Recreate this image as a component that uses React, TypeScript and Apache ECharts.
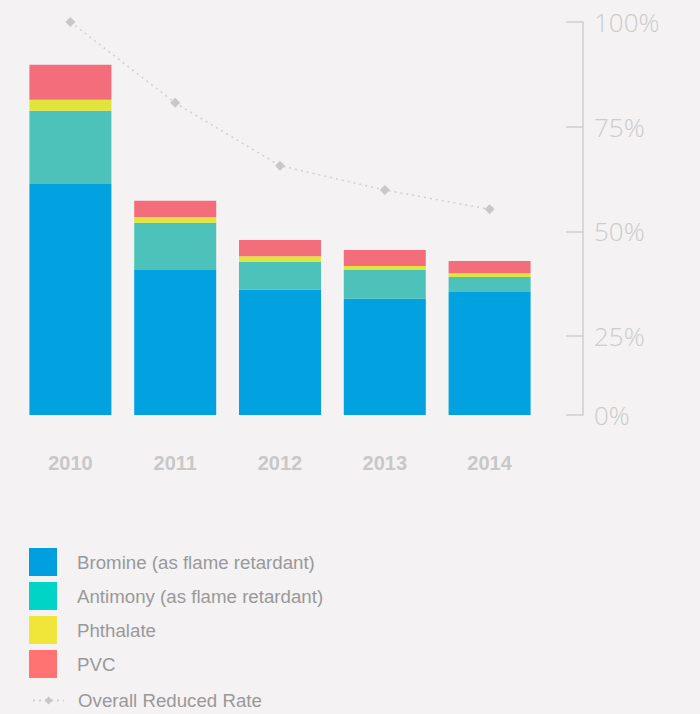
import React, { useEffect, useRef } from "react";
import * as echarts from "echarts";

const years = ["2010", "2011", "2012", "2013", "2014"];
const bromine = [58.8, 36.9, 31.9, 29.6, 31.3];
const antimony = [18.6, 12.0, 7.0, 7.3, 3.8];
const phthalate = [2.8, 1.5, 1.5, 1.0, 1.0];
const pvc = [8.9, 4.1, 4.1, 4.1, 3.1];
const reducedRate = [100, 80.7, 65.7, 59.9, 55.3];
const rateTicks = [6.2, 25, 50, 75, 100];

const seriesNames = [
  "Bromine (as flame retardant)",
  "Antimony (as flame retardant)",
  "Phthalate",
  "PVC",
];
const lineName = "Overall Reduced Rate";
const barColors = ["#02A2E0", "#4DC2BA", "#E1E43A", "#F36D7A"];
const legendColors = ["#00A0E0", "#00D4C6", "#F0E63A", "#FF7373"];

export default function App() {
  const ref = useRef<HTMLDivElement>(null);
  useEffect(() => {
    if (!ref.current) return;
    const chart = echarts.init(ref.current, null, { renderer: "svg" });
    const barData = [bromine, antimony, phthalate, pvc];
    chart.setOption({
      animation: false,
      backgroundColor: "#F4F2F3",
      grid: { left: 18, top: 22, width: 524, height: 393 },
      xAxis: {
        type: "category",
        data: years,
        axisLine: { show: false },
        axisTick: { show: false },
        axisLabel: {
          margin: 38,
          fontSize: 20,
          fontWeight: "bold",
          color: "#C8C8C8",
          fontFamily: "Liberation Sans",
        },
      },
      yAxis: [
        { type: "value", min: 0, max: 100, show: false },
        {
          type: "value",
          position: "right",
          offset: 41,
          min: 6.2,
          max: 100,
          splitLine: { show: false },
          axisLine: { show: true, lineStyle: { color: "#CFCFCF", width: 1.5 } },
          axisTick: {
            show: true,
            inside: true,
            length: 17,
            customValues: rateTicks,
            lineStyle: { color: "#CFCFCF", width: 1.5 },
          },
          axisLabel: {
            customValues: rateTicks,
            margin: 11,
            fontSize: 26,
            fontWeight: 300,
            fontFamily: "Open Sans",
            color: "#CCCCCC",
            formatter: (v: number) => (v < 10 ? "0%" : `${Math.round(v)}%`),
          },
        },
      ],
      legend: [
        {
          orient: "vertical",
          left: 29,
          top: 548,
          padding: 0,
          itemWidth: 28,
          itemHeight: 28,
          itemGap: 6,
          icon: "rect",
          selectedMode: false,
          textStyle: {
            fontSize: 18.7,
            color: "#999999",
            fontFamily: "Liberation Sans",
            padding: [0, 0, 0, 15],
          },
          data: seriesNames.map((n, i) => ({
            name: n,
            itemStyle: { color: legendColors[i] },
          })),
        },
        {
          orient: "vertical",
          left: 32,
          top: 691,
          padding: 0,
          itemWidth: 31,
          itemHeight: 10,
          selectedMode: false,
          textStyle: {
            fontSize: 18.7,
            color: "#999999",
            fontFamily: "Liberation Sans",
            padding: [0, 0, 0, 9],
          },
          data: [lineName],
        },
      ],
      series: [
        ...barData.map((d, i) => ({
          name: seriesNames[i],
          type: "bar",
          stack: "total",
          yAxisIndex: 0,
          barWidth: 82,
          itemStyle: { color: barColors[i] },
          data: d,
        })),
        {
          name: lineName,
          type: "line",
          yAxisIndex: 1,
          data: reducedRate,
          symbol: "diamond",
          symbolSize: 10,
          itemStyle: { color: "#C8C8C8" },
          lineStyle: { color: "#D0D0D0", width: 1.5, type: [2, 4] },
        },
      ],
    });
    return () => chart.dispose();
  }, []);
  return (
    <div
      ref={ref}
      style={{ position: "fixed", left: 0, top: 0, width: 700, height: 714, background: "#F4F2F3" }}
    />
  );
}
